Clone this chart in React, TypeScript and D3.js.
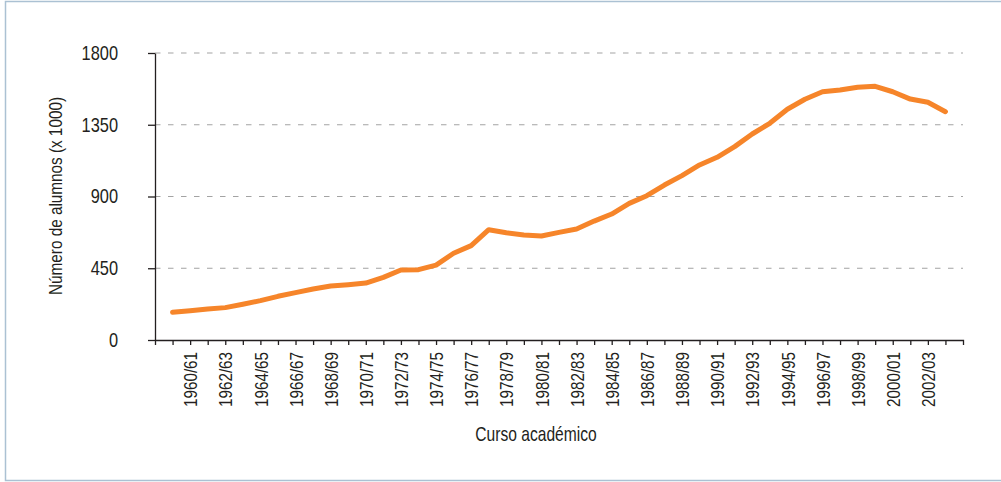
import React, {Component} from 'react';
import * as d3 from "d3"

// courses on the axis (the first and the last carry no label)
const courses = ["1959/60","1960/61","1961/62","1962/63","1963/64","1964/65","1965/66","1966/67","1967/68","1968/69",
  "1969/70","1970/71","1971/72","1972/73","1973/74","1974/75","1975/76","1976/77","1977/78","1978/79",
  "1979/80","1980/81","1981/82","1982/83","1983/84","1984/85","1985/86","1986/87","1987/88","1988/89",
  "1989/90","1990/91","1991/92","1992/93","1993/94","1994/95","1995/96","1996/97","1997/98","1998/99",
  "1999/00","2000/01","2001/02","2002/03","2003/04"]

// alumnos (x 1000)
const alumnos = [174,184,194,203,224,247,274,297,320,339,
  347,357,393,439,441,470,544,592,692,673,
  659,652,675,696,746,790,857,905,972,1031,
  1098,1146,1213,1292,1359,1447,1510,1557,1568,1585,
  1591,1557,1511,1491,1432]

const yTicks = [0,450,900,1350,1800]
const xLabels = ["1960/61","1962/63","1964/65","1966/67","1968/69","1970/71","1972/73","1974/75","1976/77","1978/79",
  "1980/81","1982/83","1984/85","1986/87","1988/89","1990/91","1992/93","1994/95","1996/97","1998/99",
  "2000/01","2002/03"]

// no condensed face installed: Liberation Sans squeezed horizontally instead
const FONT = "'Liberation Sans', Arial, sans-serif"
const NARROW = 0.8

interface AppProps {}
interface AppState {}

class App extends Component<AppProps, AppState> {
  renderChart() {
    const width = 1001
    const height = 482
    const margin = {top: 53, right: 38, bottom: 142, left: 155}

    d3.select("#chart").selectAll("*").remove()
    const svg = d3.select("#chart").append("svg")
      .attr("width", width)
      .attr("height", height)
      .style("position", "absolute")
      .style("left", 0)
      .style("top", 0)
      .style("font-family", FONT)

    // frame
    svg.append("rect")
      .attr("x", 5.5).attr("y", 1.5)
      .attr("width", width).attr("height", height - 3)
      .attr("fill", "white")
      .attr("stroke", "#abc1d3")
      .attr("stroke-width", 1.5)

    const x = d3.scalePoint<string>()
      .domain(courses)
      .range([margin.left, width - margin.right])
      .padding(1)

    const y = d3.scaleLinear()
      .domain([0, 1800])
      .range([height - margin.bottom, margin.top])

    // dashed grid
    svg.append("g")
      .selectAll("line")
      .data(yTicks.filter(d => d > 0))
      .join("line")
        .attr("x1", margin.left).attr("x2", width - margin.right)
        .attr("y1", d => y(d)).attr("y2", d => y(d))
        .attr("stroke", "#a3a3a3")
        .attr("stroke-width", 1)
        .attr("stroke-dasharray", "5.5,7.5")

    // y axis
    svg.append("g")
      .attr("transform", `translate(${margin.left},0)`)
      .call(d3.axisLeft(y).tickValues(yTicks).tickSize(7).tickSizeOuter(0).tickFormat(d3.format("d")))
      .call((g: any) => g.selectAll("path, line").attr("stroke", "#231f20").attr("stroke-width", 1.3))
      .call((g: any) => g.selectAll("text")
        .attr("font-family", FONT)
        .attr("font-size", 20)
        .attr("fill", "#231f20")
        .attr("x", -37 / 0.82)
        .attr("transform", "scale(0.82,1)"))

    // x axis
    svg.append("g")
      .attr("transform", `translate(0,${height - margin.bottom})`)
      .call(d3.axisBottom(x).tickSize(5).tickSizeOuter(5).tickFormat((d: string) => xLabels.includes(d) ? d : ""))
      .call((g: any) => g.selectAll("path, line").attr("stroke", "#231f20").attr("stroke-width", 1.3))
      .call((g: any) => g.selectAll("text")
        .attr("font-family", FONT)
        .attr("font-size", 19)
        .attr("fill", "#231f20")
        .attr("transform", `rotate(-90) scale(${NARROW},1)`)
        .attr("text-anchor", "end")
        .attr("x", -12 / NARROW)
        .attr("y", 0)
        .attr("dy", "0.35em"))

    // the line
    const line = d3.line<number>()
      .x((d, i) => x(courses[i]) as number)
      .y(d => y(d))

    svg.append("path")
      .datum(alumnos)
      .attr("d", line)
      .attr("fill", "none")
      .attr("stroke", "#f6852a")
      .attr("stroke-width", 5)
      .attr("stroke-linecap", "round")
      .attr("stroke-linejoin", "round")

    // axis titles
    svg.append("text")
      .attr("transform", `translate(62,196) rotate(-90) scale(0.85,1)`)
      .attr("text-anchor", "middle")
      .attr("font-size", 18)
      .attr("fill", "#231f20")
      .text("Número de alumnos (x 1000)")

    svg.append("text")
      .attr("transform", `translate(536,441) scale(0.78,1)`)
      .attr("text-anchor", "middle")
      .attr("font-size", 20)
      .attr("fill", "#231f20")
      .text("Curso académico")
  }

  componentDidMount() {
    this.renderChart()
  }

  public render(): JSX.Element {
    return <div id="chart" style={{width: 1001, height: 482}}></div>
  }
}

export default App;
